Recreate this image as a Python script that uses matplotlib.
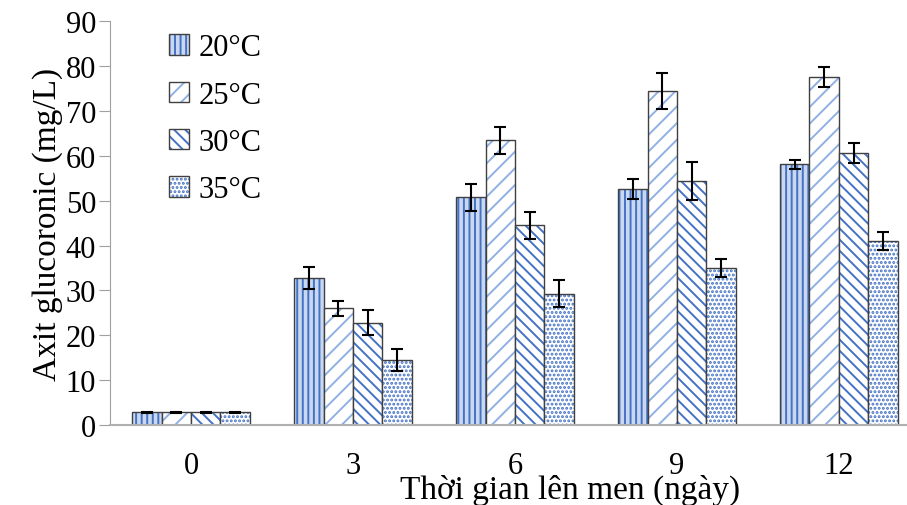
import numpy as np
import matplotlib.pyplot as plt
from matplotlib.legend_handler import HandlerTuple

plt.rcParams['font.family'] = ['Liberation Serif', 'DejaVu Serif']
plt.rcParams['hatch.linewidth'] = 1.4

# data
days = ['0', '3', '6', '9', '12']
temps = ['20°C', '25°C', '30°C', '35°C']
means = [
    [2.8, 32.7, 50.7, 52.6, 58.1],
    [2.8, 26.0, 63.4, 74.4, 77.6],
    [2.8, 22.8, 44.5, 54.4, 60.6],
    [2.8, 14.5, 29.3, 35.0, 40.9],
]
errs = [
    [0.2, 2.5, 3.0, 2.3, 1.0],
    [0.2, 1.6, 3.1, 4.0, 2.2],
    [0.2, 2.8, 3.0, 4.2, 2.3],
    [0.2, 2.5, 3.1, 2.0, 2.0],
]

blue = '#4472c4'
faces = ['#c9d8f0', 'white', 'white', 'white']
hatches = ['|||', '//', '\\\\\\', '....']
hcolors = [blue, '#8fb0e3', blue, blue]

fig = plt.figure(figsize=(9.07, 5.06), dpi=100)
ax = fig.add_axes([0.1213, 0.158, 0.893, 0.7984])

x = np.arange(len(days))
w = 0.182
handles = []
for i in range(4):
    pos = x + (i - 1.5) * w
    b1 = ax.bar(pos, means[i], w, color=faces[i], hatch=hatches[i],
                edgecolor=hcolors[i], linewidth=0)
    b2 = ax.bar(pos, means[i], w, fill=False, edgecolor='#404040', linewidth=1.0)
    ax.errorbar(pos, means[i], yerr=errs[i], fmt='none', ecolor='black',
                elinewidth=1.5, capsize=4, capthick=1.5)
    handles.append((b1[0], b2[0]))

ax.set_xlim(-0.5, 4.5)
ax.set_ylim(0, 90)
ax.set_yticks(range(0, 91, 10))
ax.set_xticks(x)
ax.set_xticklabels(days)
ax.tick_params(axis='x', length=0, labelsize=22, pad=19)
ax.tick_params(axis='y', length=8, color='#a0a0a0', labelsize=22, pad=2)

for s in ['top', 'right']:
    ax.spines[s].set_visible(False)
ax.spines['left'].set_color('#a0a0a0')
ax.spines['bottom'].set_color('#b0b0b0')
ax.spines['bottom'].set_linewidth(1.5)

ax.set_ylabel('Axit glucoronic (mg/L)', fontsize=24, labelpad=2)
ax.set_xlabel('Thời gian lên men (ngày)', fontsize=24)
ax.xaxis.set_label_coords(0.568, -0.12)

ax.legend(handles, temps, handler_map={tuple: HandlerTuple(ndivide=1)},
          loc='upper left', bbox_to_anchor=(0.058, 1.0), frameon=False,
          fontsize=22, handlelength=0.65, handleheight=0.65, handletextpad=0.3,
          labelspacing=0.6, borderaxespad=0)

fig.savefig('out.png', dpi=100)
